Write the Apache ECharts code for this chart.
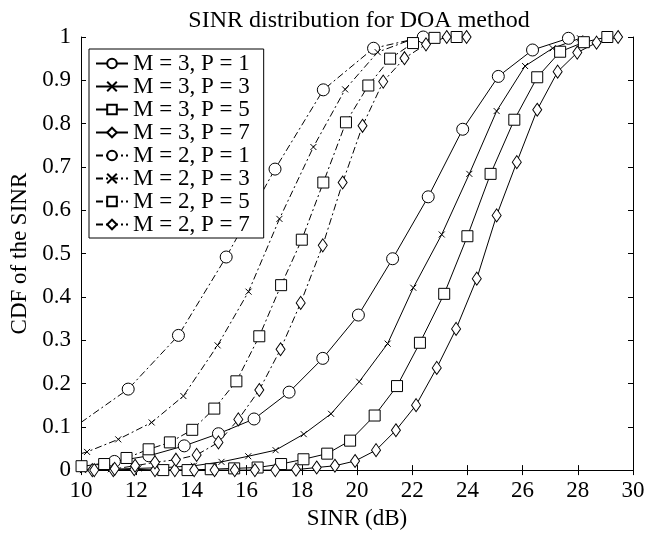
<!DOCTYPE html>
<html>
<head>
<meta charset="utf-8">
<script src="https://cdn.jsdelivr.net/npm/echarts@6/dist/echarts.min.js"></script>
<style>
  html, body { margin: 0; padding: 0; background: #fff; }
  #chart { width: 662px; height: 535px; }
</style>
</head>
<body>
<div id="chart"></div>
<script>
// x ticks and y ticks
const xTicks = [10, 12, 14, 16, 18, 20, 22, 24, 26, 28, 30];
const yTicks = [0, 0.1, 0.2, 0.3, 0.4, 0.5, 0.6, 0.7, 0.8, 0.9, 1];

const names = ['M = 3, P = 1', 'M = 3, P = 3', 'M = 3, P = 5', 'M = 3, P = 7',
               'M = 2, P = 1', 'M = 2, P = 3', 'M = 2, P = 5', 'M = 2, P = 7'];

// [SINR dB, CDF]; *Start = line start without a marker
const m3p1Start = [10, 0.008];
const m3p1 = [[11.21, 0.02], [12.46, 0.033], [13.74, 0.056], [14.98, 0.084], [16.27, 0.118],
    [17.54, 0.18], [18.76, 0.258], [20.05, 0.358], [21.29, 0.488], [22.58, 0.631],
    [23.83, 0.787], [25.12, 0.909], [26.36, 0.97], [27.66, 0.997]];
const m3p3 = [[10.07, 0.0], [11.08, 0.002], [12.08, 0.004], [13.08, 0.006], [14.09, 0.01],
    [15.09, 0.019], [16.06, 0.032], [17.05, 0.046], [18.07, 0.083], [19.06, 0.13],
    [20.08, 0.204], [21.11, 0.292], [22.04, 0.421], [23.07, 0.544], [24.07, 0.684],
    [25.06, 0.829], [26.09, 0.933], [27.09, 0.974], [28.08, 0.997]];
const m3p5Start = [10, 0.0];
const m3p5 = [[12.98, 0.0], [13.86, 0.0], [14.7, 0.002], [15.55, 0.004], [16.4, 0.006],
    [17.25, 0.014], [18.06, 0.025], [18.92, 0.038], [19.75, 0.068], [20.64, 0.126],
    [21.45, 0.194], [22.28, 0.294], [23.16, 0.407], [24.0, 0.54], [24.84, 0.684],
    [25.7, 0.809], [26.53, 0.907], [27.36, 0.966], [28.22, 0.988], [29.07, 1.0]];
const m3p7Start = [10, 0.0];
const m3p7 = [[10.41, 0.0], [11.17, 0.0], [11.93, 0.002], [12.68, 0.0], [13.4, 0.0],
    [14.1, 0.0], [14.84, 0.0], [15.57, 0.0], [16.3, 0.0], [17.04, 0.0], [17.79, 0.001],
    [18.54, 0.006], [19.2, 0.01], [19.93, 0.021], [20.69, 0.046], [21.41, 0.092],
    [22.14, 0.15], [22.89, 0.236], [23.59, 0.326], [24.34, 0.442], [25.06, 0.588],
    [25.79, 0.711], [26.53, 0.832], [27.27, 0.92], [27.98, 0.964], [28.68, 0.987], [29.46, 1.0]];
const m2p1Start = [10, 0.11];
const m2p1 = [[11.71, 0.187], [13.53, 0.311], [15.26, 0.492], [17.03, 0.695], [18.78, 0.878],
    [20.6, 0.974], [22.4, 1.0]];
const m2p3Start = [10, 0.038];
const m2p3 = [[10.22, 0.042], [11.35, 0.071], [12.56, 0.11], [13.71, 0.171], [14.95, 0.288],
    [16.07, 0.412], [17.19, 0.58], [18.42, 0.746], [19.57, 0.879], [20.75, 0.965], [21.92, 0.993]];
const m2p5 = [[10.02, 0.009], [10.84, 0.014], [11.65, 0.028], [12.45, 0.048], [13.22, 0.064],
    [14.03, 0.093], [14.83, 0.142], [15.63, 0.205], [16.46, 0.309], [17.25, 0.427],
    [18.0, 0.532], [18.78, 0.664], [19.6, 0.803], [20.41, 0.888], [21.2, 0.95],
    [22.03, 0.986], [22.81, 0.998], [23.61, 1.0]];
const m2p7 = [[10.48, 0.0], [11.22, 0.003], [11.96, 0.01], [12.68, 0.018], [13.44, 0.024],
    [14.19, 0.035], [14.98, 0.064], [15.7, 0.117], [16.46, 0.185], [17.23, 0.279],
    [17.96, 0.386], [18.76, 0.519], [19.48, 0.664], [20.2, 0.795], [20.95, 0.897],
    [21.72, 0.951], [22.5, 0.983], [23.25, 1.0], [23.97, 1.0]];

const font = 'Liberation Serif';
const dashDot = [7, 3, 2, 3];
const cross = 'path://M0,0L10,10M10,0L0,10';

function points(start, pts) {
    const out = pts.map(p => p);
    if (start) out.unshift({ value: start, symbol: 'none' });
    return out;
}

function line(name, start, pts, symbol, size, dashed) {
    return {
        name: name,
        type: 'line',
        data: points(start, pts),
        symbol: symbol,
        symbolSize: size,
        showAllSymbol: true,
        clip: false,
        lineStyle: { color: '#000', width: 1, type: dashed ? dashDot : 'solid' },
        itemStyle: { color: '#fff', borderColor: '#000', borderWidth: 1 },
        emphasis: { disabled: true }
    };
}

const series = [
    line(names[0], m3p1Start, m3p1, 'circle', 12, false),
    line(names[1], null, m3p3, cross, 6, false),
    line(names[2], m3p5Start, m3p5, 'rect', 11, false),
    line(names[3], m3p7Start, m3p7, 'diamond', [9, 13], false),
    line(names[4], m2p1Start, m2p1, 'circle', 12, true),
    line(names[5], m2p3Start, m2p3, cross, 6, true),
    line(names[6], null, m2p5, 'rect', 11, true),
    line(names[7], null, m2p7, 'diamond', [9, 13], true)
];

const labelStyle = { color: '#000', fontFamily: font, fontSize: 23 };

const option = {
    animation: false,
    backgroundColor: '#fff',
    title: {
        text: 'SINR distribution for DOA method',
        left: 354,
        textAlign: 'center',
        top: 4,
        textStyle: { color: '#000', fontFamily: font, fontSize: 24, fontWeight: 'normal' }
    },
    legend: {
        data: names,
        orient: 'vertical',
        left: 89,
        top: 49,
        padding: [3, 14, 2, 6],
        itemGap: 0,
        itemWidth: 32,
        itemHeight: 12,
        borderColor: '#000',
        borderWidth: 1,
        backgroundColor: '#fff',
        inactiveColor: '#000',
        textStyle: { color: '#000', fontFamily: font, fontSize: 23, lineHeight: 21 }
    },
    grid: { left: 81, right: 29, top: 37, bottom: 64 },
    xAxis: [{
        type: 'value',
        min: xTicks[0],
        max: xTicks[xTicks.length - 1],
        interval: 2,
        name: 'SINR (dB)',
        nameLocation: 'middle',
        nameGap: 33,
        nameTextStyle: labelStyle,
        axisLine: { lineStyle: { color: '#000', width: 1 } },
        axisTick: { inside: true, length: 5, lineStyle: { color: '#000' } },
        axisLabel: Object.assign({ margin: 9 }, labelStyle),
        splitLine: { show: false }
    }, {
        type: 'value',
        position: 'top',
        min: xTicks[0],
        max: xTicks[xTicks.length - 1],
        interval: 2,
        axisLine: { lineStyle: { color: '#000', width: 1 } },
        axisTick: { inside: true, length: 5, lineStyle: { color: '#000' } },
        axisLabel: { show: false },
        splitLine: { show: false }
    }],
    yAxis: [{
        type: 'value',
        min: yTicks[0],
        max: yTicks[yTicks.length - 1],
        interval: 0.1,
        name: 'CDF of the SINR',
        nameLocation: 'middle',
        nameGap: 50,
        nameTextStyle: labelStyle,
        axisLine: { lineStyle: { color: '#000', width: 1 } },
        axisTick: { inside: true, length: 5, lineStyle: { color: '#000' } },
        axisLabel: Object.assign({ margin: 10, formatter: v => String(+v.toFixed(1)) }, labelStyle),
        splitLine: { show: false }
    }, {
        type: 'value',
        position: 'right',
        min: yTicks[0],
        max: yTicks[yTicks.length - 1],
        interval: 0.1,
        axisLine: { lineStyle: { color: '#000', width: 1 } },
        axisTick: { inside: true, length: 5, lineStyle: { color: '#000' } },
        axisLabel: { show: false },
        splitLine: { show: false }
    }],
    series: series
};

echarts.init(document.getElementById('chart')).setOption(option);
</script>
</body>
</html>
